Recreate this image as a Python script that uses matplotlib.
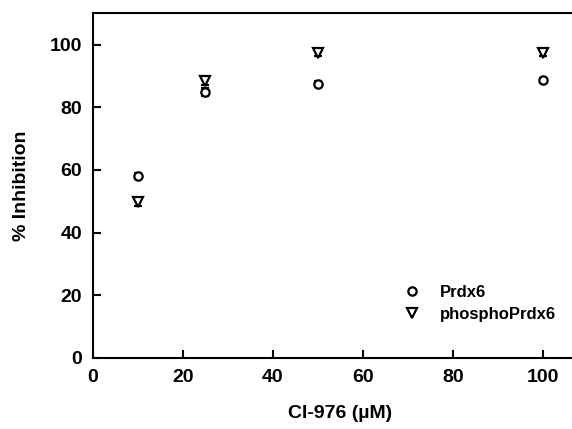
import matplotlib
matplotlib.use("Agg")
import matplotlib.pyplot as plt

conc = [10, 25, 50, 100]
prdx6 = [58.0, 84.8, 87.5, 88.6]
prdx6_err = [1.0, 1.2, 0.8, 0.8]
phospho = [49.6, 88.3, 97.3, 97.3]
phospho_err = [1.0, 1.2, 0.8, 0.8]
xticks = [0, 20, 40, 60, 80, 100]
yticks = [0, 20, 40, 60, 80, 100]

plt.rcParams['font.family'] = ['Liberation Sans', 'DejaVu Sans']
plt.rcParams['font.weight'] = 'bold'

fig = plt.figure(figsize=(5.72, 4.29), dpi=100)
ax = fig.add_axes([0.1626, 0.166, 0.865, 0.803])

ax.errorbar(conc, prdx6, yerr=prdx6_err, fmt='o', mfc='white', mec='black',
            ecolor='black', ms=6, mew=1.6, capsize=3, elinewidth=1.2, label='Prdx6', zorder=3)
ax.errorbar(conc, phospho, yerr=phospho_err, fmt='v', mfc='white', mec='black',
            ecolor='black', ms=6.5, mew=1.6, capsize=3, elinewidth=1.2, label='phosphoPrdx6', zorder=3)

ax.set_xlim(0, 110)
ax.set_ylim(0, 110)
ax.set_xticks(xticks)
ax.set_yticks(yticks)
ax.tick_params(direction='in', length=6, width=1.5, labelsize=14, pad=8)
for lbl in ax.get_xticklabels() + ax.get_yticklabels():
    lbl.set_fontweight('bold')
for s in ax.spines.values():
    s.set_linewidth(1.5)

ax.set_xlabel('CI-976 (µM)', fontsize=14, fontweight='bold', labelpad=14)
ax.set_ylabel('% Inhibition', fontsize=14, fontweight='bold', labelpad=14)

h, l = ax.get_legend_handles_labels()
h = [hh[0] for hh in h]
ax.legend(h, l, loc='lower left', bbox_to_anchor=(0.587, 0.06), frameon=False,
          handletextpad=0.9, labelspacing=0.45, handlelength=1.6,
          prop={'weight': 'bold', 'size': 12})

fig.savefig('out.png', dpi=100)
